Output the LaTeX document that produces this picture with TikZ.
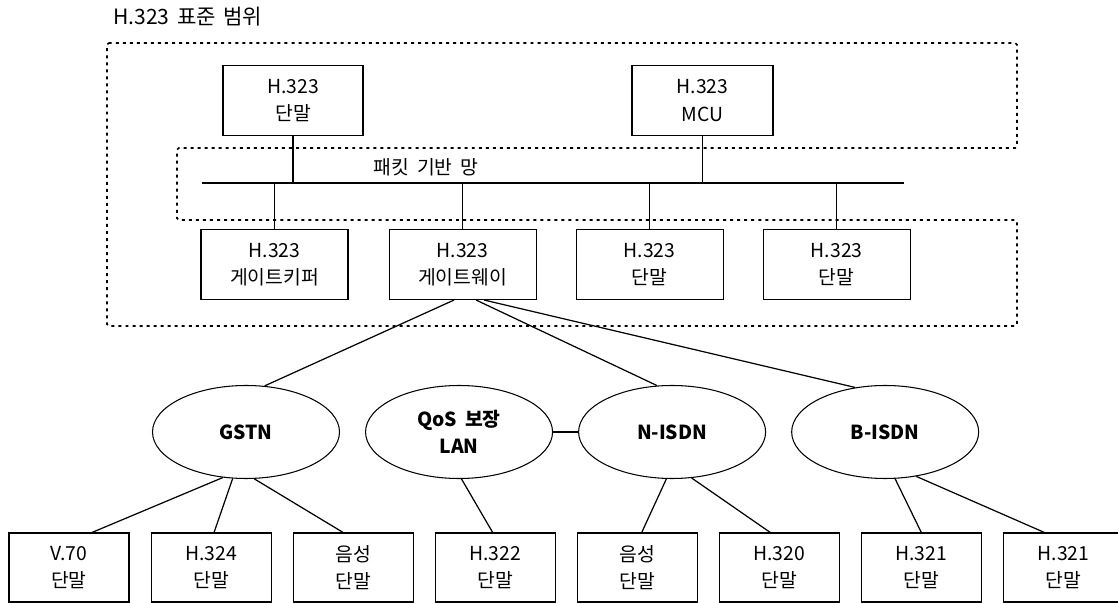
\documentclass[tikz,border=0pt]{standalone}
\usepackage{fontspec}
\setmainfont{Noto Sans CJK KR}
\usetikzlibrary{positioning,shapes.geometric}

\tikzset{
  box/.style={draw, line width=0.6pt, minimum width=2.94cm, minimum height=1.4cm,
    inner sep=0pt, align=center, font=\fontsize{11}{15.5}\selectfont},
  sbox/.style={box, minimum width=2.4cm, minimum height=1.38cm},
  net/.style={ellipse, draw, line width=0.6pt, minimum width=3.74cm, minimum height=1.86cm,
    inner sep=0pt, align=center, font=\fontsize{11}{15.5}\selectfont\bfseries},
  link/.style={line width=0.7pt},
  stub/.style={line width=0.9pt},
  bus/.style={line width=1.2pt},
  stdline/.style={line width=1pt, dash pattern=on 1.7pt off 2.3pt, rounded corners=1pt},
}

\begin{document}
\begin{tikzpicture}
  \useasboundingbox (0,0) rectangle (22.36,12.06);

  \node[anchor=west, inner sep=0pt, font=\fontsize{12}{14}\selectfont] (title) at (2.26,11.72)
    {H.323\hspace{0.35em}표준\hspace{0.35em}범위};

  % standard range
  \draw[stdline] (2.14,11.2) -- (20.34,11.2) -- (20.34,9.1) -- (3.54,9.1) -- (3.54,7.66)
    -- (20.34,7.66) -- (20.34,5.54) -- (2.14,5.54) -- cycle;

  % packet network
  \coordinate (busL) at (4.04,8.4);
  \coordinate (busR) at (18.08,8.4);
  \draw[bus] (busL) -- (busR);
  \node[font=\fontsize{11}{14}\selectfont] (pkt) at (8.52,8.72)
    {패킷\hspace{0.4em}기반\hspace{0.4em}망};

  \node[box, minimum width=2.8cm] (term)  at (5.86,10.05) {H.323\\단말};
  \node[box, minimum width=2.82cm] (mcu)  at (14.05,10.05) {H.323\\MCU};

  \node[box]                      (gk)    at (5.49,6.77) {H.323\\게이트키퍼};
  \node[box, right=0.8cm of gk]   (gw)    {H.323\\게이트웨이};
  \node[box, right=0.78cm of gw]  (term2) {H.323\\단말};
  \node[box, right=0.78cm of term2] (term3) {H.323\\단말};

  \foreach \n in {term,mcu,gk,gw,term2,term3}
    \draw[stub] (\n) -- (\n |- busL);

  % networks
  \node[net]                        (gstn)  at (4.92,3.42) {GSTN};
  \node[net, right=0.5cm of gstn]   (qos)   {QoS\hspace{0.4em}보장\\LAN};
  \node[net, right=0.5cm of qos]    (nisdn) {N-ISDN};
  \node[net, right=0.5cm of nisdn]  (bisdn) {B-ISDN};

  \draw[link] ([xshift=-0.17cm]gw.south) -- (gstn.68);
  \draw[link] ([xshift=0.27cm]gw.south)  -- (nisdn.108);
  \draw[link] ([xshift=0.43cm]gw.south)  -- (bisdn.124);
  \draw[link] (qos) -- (nisdn);

  % terminals
  \node[sbox]                        (v70)    at (1.38,0.71) {V.70\\단말};
  \node[sbox, right=0.42cm of v70]   (h324)   {H.324\\단말};
  \node[sbox, right=0.42cm of h324]  (voice1) {음성\\단말};
  \node[sbox, right=0.42cm of voice1] (h322)  {H.322\\단말};
  \node[sbox, right=0.42cm of h322]  (voice2) {음성\\단말};
  \node[sbox, right=0.42cm of voice2] (h320)  {H.320\\단말};
  \node[sbox, right=0.42cm of h320]  (h321a)  {H.321\\단말};
  \node[sbox, right=0.42cm of h321a] (h321b)  {H.321\\단말};

  \draw[link] (gstn.243)  -- ([xshift=0.46cm]v70.north);
  \draw[link] (gstn.254)  -- ([xshift=0.06cm]h324.north);
  \draw[link] (gstn.280)  -- ([xshift=-0.2cm]voice1.north);
  \draw[link] (qos.273)   -- ([xshift=-0.05cm]h322.north);
  \draw[link] (nisdn.263) -- ([xshift=0.09cm]voice2.north);
  \draw[link] (nisdn.293) -- ([xshift=-0.18cm]h320.north);
  \draw[link] (bisdn.282) -- (h321a.north);
  \draw[link] (bisdn.305) -- ([xshift=-0.38cm]h321b.north);
\end{tikzpicture}
\end{document}
